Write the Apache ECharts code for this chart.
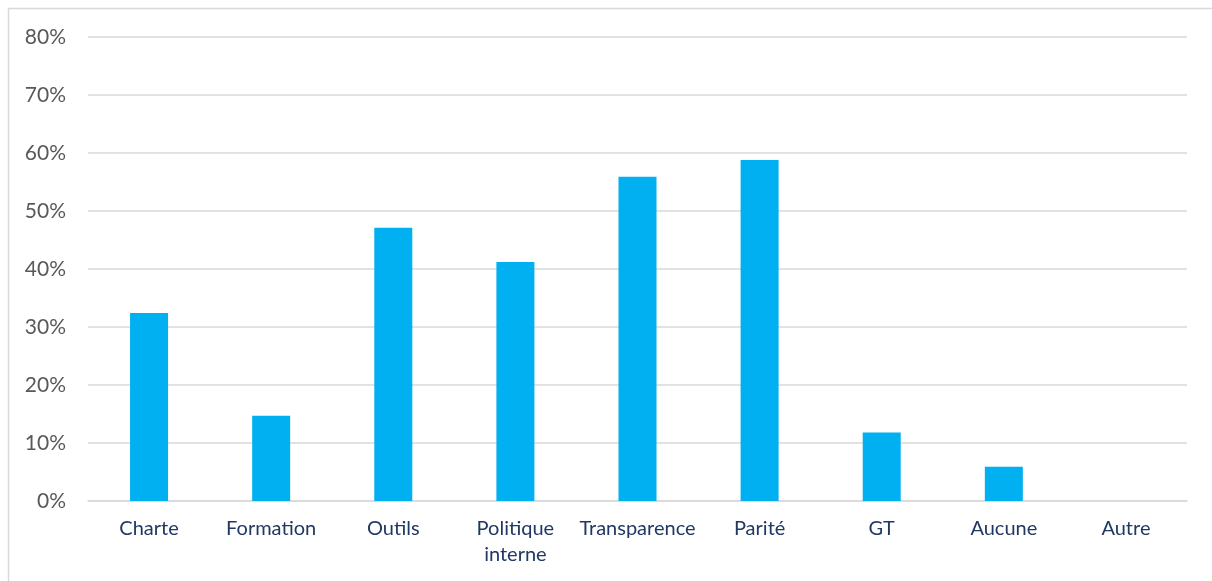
<!DOCTYPE html>
<html>
<head>
<meta charset="utf-8">
<script src="https://cdn.jsdelivr.net/npm/echarts@6/dist/echarts.min.js"></script>
<style>
  html, body { margin: 0; padding: 0; background: #ffffff; }
  #chart { width: 1212px; height: 581px; }
</style>
</head>
<body>
<div id="chart"></div>
<script>
// Actions menées (part des répondants)
const categories = ['Charte', 'Formation', 'Outils', 'Politique\ninterne', 'Transparence', 'Parité', 'GT', 'Aucune', 'Autre'];
const shares = [32.4, 14.7, 47.1, 41.2, 55.9, 58.8, 11.8, 5.9, 0];
const yTicks = [0, 10, 20, 30, 40, 50, 60, 70, 80];

const chart = echarts.init(document.getElementById('chart'), null, { renderer: 'canvas' });

chart.setOption({
  backgroundColor: '#ffffff',
  animation: false,
  graphic: [{
    type: 'rect',
    left: 6, top: 6,
    shape: { width: 1240, height: 620 },
    style: { fill: 'none', stroke: '#d9d9d9', lineWidth: 1.5 },
    silent: true
  }],
  grid: { left: 88, right: 25, top: 37, bottom: 80, containLabel: false },
  xAxis: {
    type: 'category',
    data: categories,
    axisLine: { show: true, lineStyle: { color: '#d9d9d9', width: 1.5 } },
    axisTick: { show: false },
    axisLabel: {
      color: '#1f3864',
      fontFamily: 'Lato',
      fontSize: 20,
      lineHeight: 26,
      margin: 15,
      interval: 0
    }
  },
  yAxis: {
    type: 'value',
    min: yTicks[0],
    max: yTicks[yTicks.length - 1],
    interval: 10,
    axisLine: { show: false },
    axisTick: { show: false },
    splitLine: { lineStyle: { color: '#d9d9d9', width: 1.5 } },
    axisLabel: {
      color: '#595959',
      fontFamily: 'Lato',
      fontSize: 21,
      margin: 22,
      formatter: v => v + '%'
    }
  },
  series: [{
    type: 'bar',
    data: shares,
    barWidth: 38,
    itemStyle: { color: '#00b0f0' }
  }]
});
</script>
</body>
</html>
